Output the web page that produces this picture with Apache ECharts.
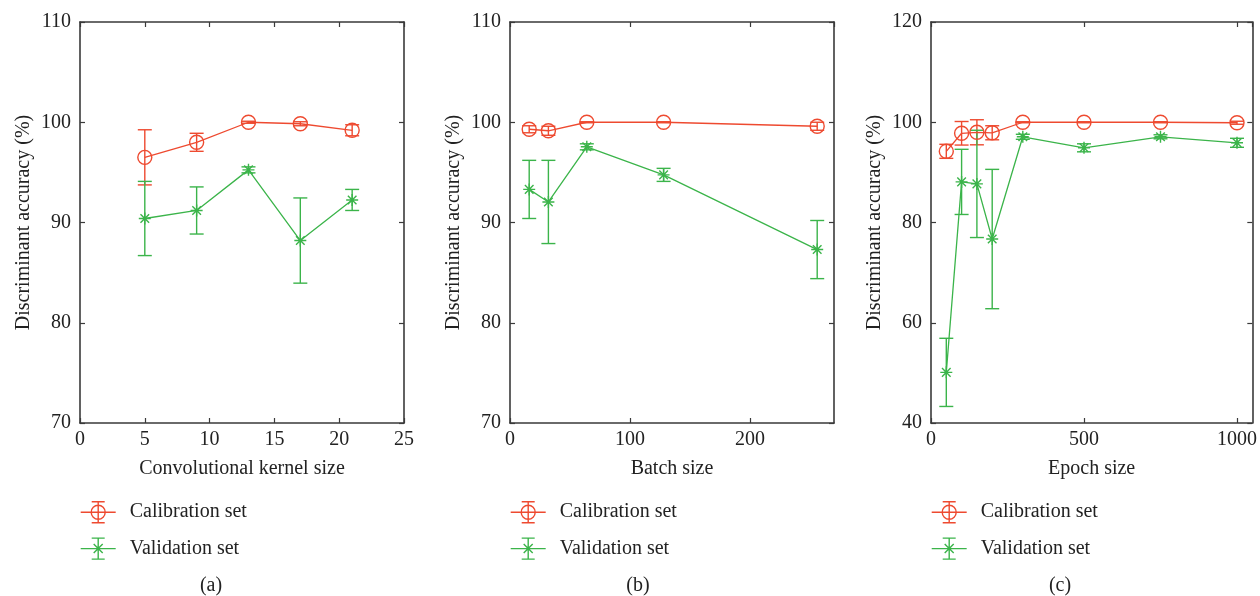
<!DOCTYPE html>
<html>
<head>
<meta charset="utf-8">
<script src="https://cdn.jsdelivr.net/npm/echarts@6/dist/echarts.min.js"></script>
<style>
  html, body { margin: 0; padding: 0; background: #fff; }
  #chart { width: 1260px; height: 596px; }
</style>
</head>
<body>
<div id="chart"></div>
<script>
// panel (a) convolutional kernel size
const kernelSizes = [5, 9, 13, 17, 21];
const calA = [96.5, 98.0, 100.0, 99.85, 99.2];
const calAErr = [2.75, 0.9, 0.1, 0.2, 0.55];
const valA = [90.4, 91.2, 95.25, 88.2, 92.25];
const valAErr = [3.7, 2.35, 0.3, 4.25, 1.05];

// panel (b) batch size
const batchSizes = [16, 32, 64, 128, 256];
const calB = [99.3, 99.15, 100.0, 100.0, 99.6];
const calBErr = [0.35, 0.45, 0.05, 0.05, 0.4];
const valB = [93.3, 92.05, 97.55, 94.75, 87.3];
const valBErr = [2.9, 4.15, 0.3, 0.65, 2.9];

// panel (c) epoch size
const epochSizes = [50, 100, 150, 200, 300, 500, 750, 1000];
const calC = [94.2, 97.8, 98.0, 97.9, 100.0, 100.0, 100.0, 99.9];
const calCErr = [1.4, 2.35, 2.5, 1.4, 0.1, 0.1, 0.1, 0.3];
const valC = [50.1, 88.1, 87.7, 76.7, 97.1, 94.9, 97.1, 95.9];
const valCErr = [6.8, 6.5, 10.7, 13.9, 0.5, 0.8, 0.4, 0.9];

const xNames = ['Convolutional kernel size', 'Batch size', 'Epoch size'];
const xRanges = [[0, 25, 5], [0, 270, 100], [0, 1050, 500]];
const yRanges = [[70, 110, 10], [70, 110, 10], [40, 120, 20]];
const captions = ['(a)', '(b)', '(c)'];

const RED = '#EE4A30';
const GREEN = '#3BB44A';
const FONT = 'Liberation Serif';
const AXIS = '#3a3a3a';

const grids = [
  {left: 80, top: 22, width: 324, height: 401},
  {left: 510, top: 22, width: 324, height: 401},
  {left: 931, top: 22, width: 323, height: 401}
];

function errorBar(params, api) {
  const x = api.value(0), m = api.value(1), e = api.value(2);
  const hi = api.coord([x, m + e]);
  const lo = api.coord([x, m - e]);
  const hw = 7;
  const style = {stroke: api.visual('color'), lineWidth: 1.4, fill: null};
  return {
    type: 'group',
    children: [
      {type: 'line', shape: {x1: hi[0], y1: hi[1], x2: lo[0], y2: lo[1]}, style: style},
      {type: 'line', shape: {x1: hi[0] - hw, y1: hi[1], x2: hi[0] + hw, y2: hi[1]}, style: style},
      {type: 'line', shape: {x1: lo[0] - hw, y1: lo[1], x2: lo[0] + hw, y2: lo[1]}, style: style}
    ]
  };
}

const asterisk = 'path://M0,-6L0,6M-6,0L6,0M-4.3,-4.3L4.3,4.3M-4.3,4.3L4.3,-4.3';

function zip3(xs, ys, es) {
  return xs.map((x, i) => [x, ys[i], es[i]]);
}

const panels = [
  [kernelSizes, calA, calAErr, valA, valAErr],
  [batchSizes, calB, calBErr, valB, valBErr],
  [epochSizes, calC, calCErr, valC, valCErr]
];

const xAxis = [], yAxis = [], series = [], legend = [], graphic = [];

panels.forEach((p, i) => {
  const [xs, cal, calErr, val, valErr] = p;
  const tickStyle = {show: true, inside: true, length: 5, lineStyle: {color: AXIS, width: 1.2}};
  const lineStyle = {show: true, onZero: false, lineStyle: {color: AXIS, width: 1.6}};
  xAxis.push({
    type: 'value', gridIndex: i, position: 'bottom',
    min: xRanges[i][0], max: xRanges[i][1], interval: xRanges[i][2],
    axisLine: lineStyle, axisTick: tickStyle, splitLine: {show: false},
    axisLabel: {color: '#222', fontFamily: FONT, fontSize: 20, margin: 7,
                showMaxLabel: i === 0, formatter: v => String(v)},
    name: xNames[i], nameLocation: 'middle', nameGap: 36,
    nameTextStyle: {color: '#222', fontFamily: FONT, fontSize: 20}
  });
  xAxis.push({
    type: 'value', gridIndex: i, position: 'top',
    min: xRanges[i][0], max: xRanges[i][1], interval: xRanges[i][2],
    axisLine: lineStyle, axisTick: tickStyle, splitLine: {show: false},
    axisLabel: {show: false}
  });
  yAxis.push({
    type: 'value', gridIndex: i, position: 'left',
    min: yRanges[i][0], max: yRanges[i][1], interval: yRanges[i][2],
    axisLine: lineStyle, axisTick: tickStyle, splitLine: {show: false},
    axisLabel: {color: '#222', fontFamily: FONT, fontSize: 20, margin: 9},
    name: 'Discriminant accuracy (%)', nameLocation: 'middle', nameGap: 46,
    nameTextStyle: {color: '#222', fontFamily: FONT, fontSize: 20}
  });
  yAxis.push({
    type: 'value', gridIndex: i, position: 'right',
    min: yRanges[i][0], max: yRanges[i][1], interval: yRanges[i][2],
    axisLine: lineStyle, axisTick: tickStyle, splitLine: {show: false},
    axisLabel: {show: false}
  });

  const xi = i * 2, yi = i * 2;
  series.push({
    name: 'Calibration set', type: 'custom', xAxisIndex: xi, yAxisIndex: yi,
    renderItem: errorBar, itemStyle: {color: RED},
    encode: {x: 0, y: 1}, data: zip3(xs, cal, calErr), silent: true
  });
  series.push({
    name: 'Validation set', type: 'custom', xAxisIndex: xi, yAxisIndex: yi,
    renderItem: errorBar, itemStyle: {color: GREEN},
    encode: {x: 0, y: 1}, data: zip3(xs, val, valErr), silent: true
  });
  series.push({
    name: 'Calibration set', type: 'line', xAxisIndex: xi, yAxisIndex: yi,
    data: xs.map((x, k) => [x, cal[k]]),
    symbol: 'circle', symbolSize: 14,
    itemStyle: {color: 'rgba(0,0,0,0)', borderColor: RED, borderWidth: 1.4},
    lineStyle: {color: RED, width: 1.3}, animation: false, silent: true
  });
  series.push({
    name: 'Validation set', type: 'line', xAxisIndex: xi, yAxisIndex: yi,
    data: xs.map((x, k) => [x, val[k]]),
    symbol: asterisk, symbolSize: 12,
    itemStyle: {color: 'rgba(0,0,0,0)', borderColor: GREEN, borderWidth: 1.4},
    lineStyle: {color: GREEN, width: 1.3}, animation: false, silent: true
  });

  legend.push({
    left: grids[i].left, top: 501, orient: 'vertical', padding: 0,
    itemWidth: 35, itemHeight: 21, itemGap: 14,
    textStyle: {color: '#222', fontFamily: FONT, fontSize: 20, padding: [0, 0, 0, 9]},
    data: [
      {name: 'Calibration set',
       icon: 'path://M0,10.5L35,10.5M17.5,0L17.5,21M11,0L24,0M11,21L24,21M24.5,10.5A7,7,0,1,1,10.5,10.5A7,7,0,1,1,24.5,10.5',
       itemStyle: {color: 'rgba(0,0,0,0)', borderColor: RED, borderWidth: 1.4}},
      {name: 'Validation set',
       icon: 'path://M0,10.5L35,10.5M17.5,0L17.5,21M11,0L24,0M11,21L24,21M13,6L22,15M13,15L22,6',
       itemStyle: {color: 'rgba(0,0,0,0)', borderColor: GREEN, borderWidth: 1.4}}
    ]
  });
});

const captionX = [211, 638, 1060];
captions.forEach((c, i) => {
  graphic.push({type: 'text', x: captionX[i], y: 586,
    style: {text: c, fill: '#222', font: '20px "Liberation Serif"', align: 'center', verticalAlign: 'middle'}});
});

const chart = echarts.init(document.getElementById('chart'));
chart.setOption({
  backgroundColor: '#fff',
  animation: false,
  grid: grids,
  xAxis: xAxis,
  yAxis: yAxis,
  legend: legend,
  graphic: graphic,
  series: series
});
</script>
</body>
</html>
